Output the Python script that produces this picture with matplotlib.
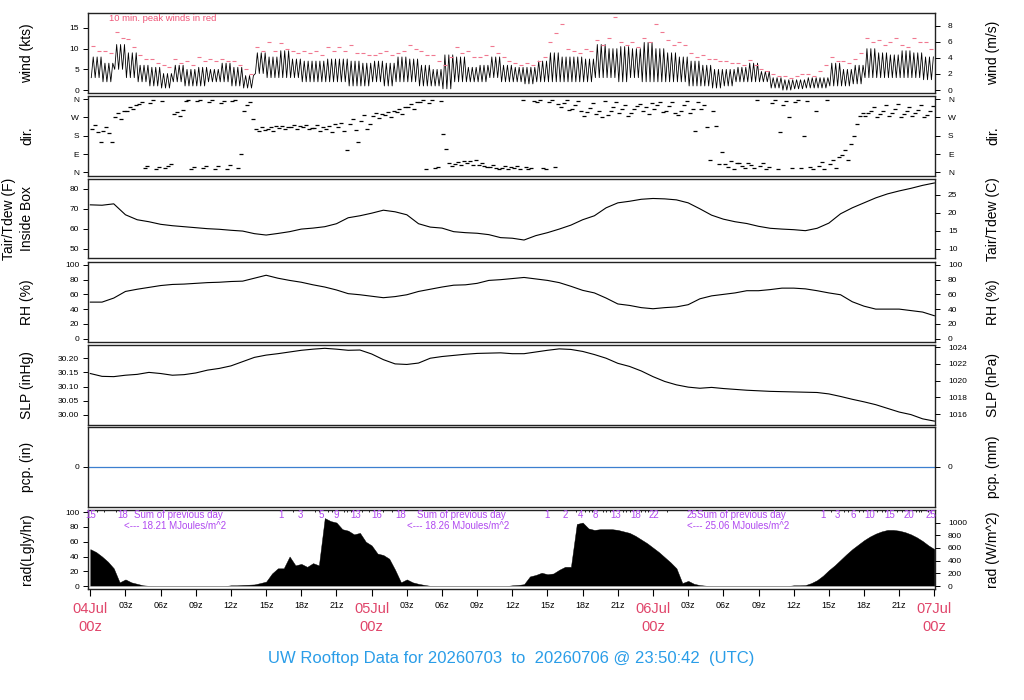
import numpy as np
import matplotlib
matplotlib.use('Agg')
import matplotlib.pyplot as plt
from matplotlib.transforms import blended_transform_factory

plt.rcParams['font.family'] = ['Liberation Sans', 'DejaVu Sans']

# ---------------- data (hours since 04Jul 00z) ----------------
hours = np.arange(73)

temp_f = [72.0, 71.8, 72.5, 67.0, 64.5, 63.5, 62.2, 61.5, 61.0, 60.5,
          60.0, 59.7, 59.2, 58.8, 57.5, 56.8, 57.6, 58.5, 59.8, 60.3,
          61.0, 62.5, 65.5, 66.5, 67.8, 69.3, 68.5, 67.0, 62.5, 60.8,
          60.3, 58.5, 58.0, 57.7, 57.0, 55.5, 55.2, 54.3, 56.5, 58.0,
          59.8, 61.8, 64.5, 66.5, 70.5, 73.0, 73.8, 74.8, 75.2, 75.0,
          74.5, 73.0, 70.0, 66.8, 64.8, 63.5, 62.6, 61.2, 60.2, 59.8,
          59.5, 59.0, 60.2, 62.8, 67.5, 70.5, 73.0, 75.5, 77.5, 79.0,
          80.3, 81.8, 83.0]

rh = [49.5, 49.5, 55, 64, 67, 69.5, 72, 73.5, 74, 75,
      76, 76.5, 77.5, 78, 82, 86, 82, 79, 76.5, 73,
      70, 66, 61, 59.5, 57.5, 55.5, 57, 59.5, 64, 67,
      70, 72.5, 73, 75, 79, 80, 81.5, 83, 81, 79,
      76, 71, 65.5, 62, 55, 47, 45, 42, 40.5, 42,
      43, 46, 54, 58, 60, 62, 65, 65, 66.5, 68.5,
      68.5, 67.5, 65, 62, 59.5, 50, 44, 40, 40, 40,
      38, 36, 31]

slp_inhg = [30.146, 30.136, 30.135, 30.140, 30.143, 30.150, 30.146, 30.140, 30.142, 30.148,
            30.158, 30.164, 30.173, 30.188, 30.203, 30.211, 30.216, 30.222, 30.228, 30.232,
            30.235, 30.232, 30.228, 30.229, 30.215, 30.195, 30.180, 30.178, 30.183, 30.200,
            30.206, 30.210, 30.214, 30.217, 30.218, 30.219, 30.216, 30.216, 30.222, 30.228,
            30.233, 30.231, 30.224, 30.213, 30.200, 30.182, 30.171, 30.155, 30.135, 30.118,
            30.106, 30.098, 30.094, 30.097, 30.093, 30.090, 30.087, 30.085, 30.083, 30.082,
            30.081, 30.080, 30.079, 30.074, 30.065, 30.055, 30.046, 30.036, 30.023, 30.010,
            30.001, 29.986, 29.978]

# hourly low / high of the 1-min wind trace (kts), hours 0..71
wind_lo = [3, 2, 5, 3, 2, 1, 0.5, 2, 1, 1, 2, 2, 1, 0.5, 4, 3, 3, 3, 2, 2,
           2, 2, 1, 1, 2, 1, 2, 2, 1, 1, 0.3, 2, 2, 2, 3, 2, 2, 1.5, 2, 2,
           2, 2, 2, 3, 3, 2, 3, 2, 2, 2, 2, 1, 1, 0.5, 1, 2, 2, 2, 0.5, 0,
           0.3, 0.5, 0.5, 1, 1, 1.5, 3, 3, 3, 3, 3, 2.5]
wind_hi = [8, 6.5, 11, 9, 6, 5.5, 4, 6, 5, 5.5, 5, 6.5, 5.5, 3.5, 9, 8, 9.5, 7.5, 7, 7,
           7.5, 7.5, 7, 6.5, 7, 6.5, 8, 7.5, 6, 5, 8.5, 8, 5.5, 6, 8, 6, 5.5, 5.5, 7, 9,
           8, 8, 7.5, 11, 10, 10.5, 10, 11.5, 10, 9, 8, 7, 6, 5, 5, 5.5, 6.5, 4.5, 3, 2.5,
           2.5, 3, 3, 6.5, 5, 6, 10, 9, 8.5, 9.5, 9, 8]

# 10-minute peak winds (kts), two per hour
peak_a = [10.7, 9.5, 14, 12.3, 8.5, 7.5, 6, 7.5, 7, 8, 7.5, 7.5, 7, 5, 10.5, 11.7, 11.3, 9.5, 9.5, 9.5,
          10.5, 10.5, 11, 9, 8.5, 9.5, 9, 11, 9.5, 8.5, 6, 10.3, 9.5, 8, 10.7, 8, 6.5, 6.5, 7, 11.5,
          16, 9.5, 10, 12, 12.5, 11.5, 11.5, 12.5, 16, 12, 11.5, 9, 8.5, 7.5, 7, 6.5, 7.2, 5, 4, 3.5,
          3.5, 4, 4.5, 8, 7, 7.5, 12.5, 12, 11.5, 11, 12.5, 11.5]
peak_b = [9.5, 9, 12.5, 10.5, 7.5, 6.5, 5.5, 6.5, 6, 7, 7, 7, 6, 4, 9.5, 9.5, 10, 9, 9, 8.5,
          9.5, 9.5, 9, 8.5, 9, 8.5, 9.5, 10, 8.5, 7, 8, 9, 8, 8.5, 9, 7, 6, 6, 8, 13.8,
          10, 9, 9.5, 11, 17.7, 11, 10.5, 11.5, 14, 11, 11, 8, 7.5, 7, 6.5, 6, 6, 4.5, 3.5, 3,
          4, 3.5, 6, 7, 6.5, 9, 11.5, 11, 12.5, 10.5, 11.5, 10]

# wind direction samples (deg), four per hour
dir1 = [215, 205, 270, 300, 335, 340, 350, 285, 350, 350, 345, 340, 350, 300, 215, 215, 220, 225, 225, 220,
        215, 225, 240, 250, 275, 280, 295, 320, 345, 355, 190, 40, 45, 35, 25, 20, 20, 25, 345, 345,
        320, 310, 275, 285, 280, 290, 290, 300, 310, 300, 280, 290, 310, 300, 40, 47, 47, 30, 340, 330,
        345, 350, 30, 40, 85, 180, 275, 270, 275, 270, 275, 270]
dir2 = [235, 225, 290, 320, 345, 355, 20, 295, 355, 355, 355, 350, 355, 330, 205, 225, 230, 235, 235, 235,
        230, 245, 260, 280, 290, 295, 310, 335, 355, 20, 115, 50, 55, 45, 35, 30, 30, 15, 355, 355,
        340, 330, 295, 300, 300, 310, 310, 320, 330, 325, 300, 310, 330, 230, 25, 45, 35, 45, 355, 350,
        355, 25, 50, 60, 110, 240, 290, 285, 290, 285, 290, 280]
dir3 = [200, 195, 260, 310, 20, 15, 30, 275, 15, 20, 15, 15, 20, 345, 225, 205, 215, 215, 215, 205,
        200, 205, 210, 215, 265, 270, 285, 310, 15, 25, 45, 35, 35, 30, 20, 15, 15, 20, 20, 25,
        355, 350, 315, 270, 320, 330, 325, 285, 345, 345, 330, 205, 225, 40, 55, 30, 20, 15, 15, 270,
        20, 15, 15, 20, 60, 275, 300, 300, 310, 300, 305, 300]
dir4 = [150, 150, 300, 330, 30, 25, 40, 305, 25, 30, 30, 35, 90, 260, 210, 230, 225, 230, 220, 225,
        240, 110, 150, 240, 285, 300, 320, 345, 340, 350, 30, 55, 60, 25, 15, 25, 355, 350, 15, 335,
        305, 300, 340, 350, 345, 275, 335, 340, 295, 290, 350, 345, 60, 100, 15, 20, 355, 25, 200, 20,
        180, 300, 355, 75, 140, 290, 320, 330, 335, 320, 330, 325]

# solar radiation (Langley/hr), every half hour from 0 to 72
rad_ly = [50, 46, 40, 33, 24, 5, 9, 5, 3, 1, 0.3,
          0, 0, 0, 0, 0, 0, 0, 0, 0, 0, 0, 0, 0,
          1, 1, 1.5, 1.8, 2.2, 4, 6, 17, 24, 24, 40, 28, 30, 26, 31, 28,
          92, 88, 86, 77, 75, 70, 72, 60, 55, 44, 42, 37, 22, 5, 9, 5, 3, 1.5, 0.3,
          0, 0, 0, 0, 0, 0, 0, 0, 0, 0, 0, 0, 0,
          1, 1.5, 2.5, 13, 15, 18, 16, 17, 22, 26, 26, 84, 86, 78, 76, 77, 77, 77,
          76, 74, 72, 68, 63, 58, 52, 46, 39, 32, 24, 4, 7, 3, 1.3, 0.5,
          0, 0, 0, 0, 0, 0, 0, 0, 0, 0, 0, 0, 0, 0,
          1, 1, 1.3, 4, 8, 14, 21.5, 28, 35.5, 43, 50, 56, 62, 67, 71, 74, 76, 76,
          75, 73, 70, 66, 61, 55, 50]

# cumulative daily radiation labels (MJ/m^2) along the top of the rad panel
cum_hours = [0.0, 2.8, 16.25, 17.9, 19.7, 21.0, 22.6, 24.4, 26.5,
             39.0, 40.5, 41.8, 43.1, 44.8, 46.5, 48.1, 51.3,
             62.5, 63.7, 65.1, 66.5, 68.2, 69.8, 71.7]
cum_labels = ['15', '18', '1', '3', '5', '9', '13', '16', '18',
              '1', '2', '4', '8', '13', '18', '22', '25',
              '1', '3', '6', '10', '15', '20', '25']
cum_tick_hours = [0.6, 1.2, 2.2, 17.25, 19.2, 19.5, 20.3, 20.6, 21.6, 21.9, 22.2, 23.2, 23.8, 25.0, 25.7,
                  41.4, 42.2, 42.5, 42.8, 43.7, 44.0, 44.3, 45.4, 45.7, 46.0, 47.0, 47.3, 47.6, 49.2,
                  63.2, 64.3, 64.6, 65.6, 65.9, 67.1, 67.5, 67.8, 68.8, 69.2, 70.4, 70.7, 70.9, 71.5]
sum_hours = [2.9, 27.0, 50.9]
sum_totals = ['18.21', '18.26', '25.06']

date_labels = ['04Jul', '05Jul', '06Jul', '07Jul']
title_text = 'UW Rooftop Data for 20260703  to  20260706 @ 23:50:42  (UTC)'

# ---------------- figure ----------------
W, H = 1024, 700
fig = plt.figure(figsize=(W / 100, H / 100), dpi=100)
X0, X1 = 88.3, 934.7
XLIM = (-0.17, 72.03)


def make_ax(top, bottom):
    ax = fig.add_axes([X0 / W, 1 - bottom / H, (X1 - X0) / W, (bottom - top) / H])
    ax.set_xlim(*XLIM)
    for s in ax.spines.values():
        s.set_linewidth(1.0)
        s.set_color('#222222')
    ax.tick_params(axis='y', labelsize=6, length=3.5, width=0.7, pad=3, direction='out')
    return ax


def right_axis(ax, lim, ticks, labels=None):
    a2 = ax.twinx()
    a2.set_ylim(*lim)
    a2.set_yticks(ticks)
    if labels is not None:
        a2.set_yticklabels(labels)
    a2.tick_params(axis='y', labelsize=6, length=3.5, width=0.7, pad=6, direction='out')
    for s in a2.spines.values():
        s.set_visible(False)
    return a2


KT2MS = 1 / 1.94384
tops = [13, 96, 179, 262, 345, 427, 510]
bots = [93, 175.5, 258.5, 341.5, 424.5, 506.5, 589]
axs = [make_ax(t, b) for t, b in zip(tops, bots)]

# ---- wind speed ----
ax = axs[0]
# trace swings between the hourly low and high three times per hour
sub = [1 / 12, 3 / 12, 5 / 12, 7 / 12, 9 / 12, 11 / 12]
t_w = np.ravel([[h + s for s in sub] for h in range(72)])
v_w = np.ravel([[lo, hi, lo, hi, lo, hi] for lo, hi in zip(wind_lo, wind_hi)])
ax.plot(t_w, v_w, color='black', lw=0.6)
t_p = np.ravel([[h + 0.25, h + 0.75] for h in range(72)])
v_p = np.ravel(list(zip(peak_a, peak_b)))
ax.plot(t_p, v_p, ls='none', marker='_', ms=2.6, mew=0.8, color='#F07890')
ax.set_ylim(-0.7, 18.6)
ax.set_yticks([0, 5, 10, 15])
ax.text(1.6, 17.3, '10 min. peak winds in red', fontsize=6.8, color='#EE5577', ha='left', va='center')
right_axis(ax, (-0.7 * KT2MS, 18.6 * KT2MS), [0, 2, 4, 6, 8])

# ---- direction ----
ax = axs[1]
offs = [0.125, 0.375, 0.625, 0.875]
for k, d in enumerate([dir1, dir2, dir3, dir4]):
    ax.plot(np.arange(72) + offs[k], d, ls='none', marker='_', ms=3.2, mew=0.9, color='black')
ax.set_ylim(-15, 375)
ax.set_yticks([0, 90, 180, 270, 360])
ax.set_yticklabels(['N', 'E', 'S', 'W', 'N'])
right_axis(ax, (-15, 375), [0, 90, 180, 270, 360], ['N', 'E', 'S', 'W', 'N'])

# ---- temperature ----
ax = axs[2]
ax.plot(hours, temp_f, color='black', lw=0.8)
ax.set_ylim(45, 85)
ax.set_yticks([50, 60, 70, 80])
right_axis(ax, ((45 - 32) / 1.8, (85 - 32) / 1.8), [10, 15, 20, 25])

# ---- RH ----
ax = axs[3]
ax.plot(hours, rh, color='black', lw=0.8)
ax.set_ylim(-4, 104)
ax.set_yticks([0, 20, 40, 60, 80, 100])
right_axis(ax, (-4, 104), [0, 20, 40, 60, 80, 100])

# ---- SLP ----
ax = axs[4]
ax.plot(hours, slp_inhg, color='black', lw=0.8)
ax.set_ylim(29.966, 30.2467)
ax.set_yticks([30.00, 30.05, 30.10, 30.15, 30.20])
ax.set_yticklabels(['30.00', '30.05', '30.10', '30.15', '30.20'])
right_axis(ax, (29.966 * 33.8639, 30.2467 * 33.8639), [1016, 1018, 1020, 1022, 1024])

# ---- precipitation ----
ax = axs[5]
ax.plot([XLIM[0], XLIM[1]], [0, 0], color='#3C7FCF', lw=0.9)
ax.set_ylim(-1, 1)
ax.set_yticks([0])
ax.set_yticklabels(['0'])
right_axis(ax, (-1, 1), [0], ['0'])

# ---- radiation ----
ax = axs[6]
t_r = np.arange(len(rad_ly)) * 0.5
ax.fill_between(t_r, 0, rad_ly, color='black', lw=0.3)
ax.plot([XLIM[0], XLIM[1]], [0, 0], color='#cccccc', lw=0.5)
ax.set_ylim(-4, 103)
ax.set_yticks([0, 20, 40, 60, 80, 100])
right_axis(ax, (-4 * 11.63, 103 * 11.63), [0, 200, 400, 600, 800, 1000])
mag = '#B048F0'
for h, lab in zip(cum_hours, cum_labels):
    ax.text(h, 95.8, lab, color=mag, fontsize=7, ha='center', va='center')
ax.vlines(cum_tick_hours, 100.0, 103, color='black', lw=0.6)
for h, tot in zip(sum_hours, sum_totals):
    ax.text(h + 0.85, 95.8, 'Sum of previous day', color=mag, fontsize=7, ha='left', va='center')
    ax.text(h, 81.0, '<--- ' + tot + ' MJoules/m^2', color=mag, fontsize=7, ha='left', va='center')

for a in axs[:-1]:
    a.set_xticks([])
xt = list(range(0, 73, 3))
axs[-1].set_xticks(xt)
axs[-1].set_xticklabels(['' if h % 24 == 0 else '%02dz' % (h % 24) for h in xt])
axs[-1].tick_params(axis='x', labelsize=6.5, length=5, width=0.8, pad=4)
tr = blended_transform_factory(axs[-1].transData, fig.transFigure)
for i, lab in enumerate(date_labels):
    axs[-1].text(24 * i, 1 - 609 / H, lab, transform=tr, color='#E0456A', fontsize=10.5,
                 ha='center', va='center', clip_on=False)
    axs[-1].text(24 * i, 1 - 627 / H, '00z', transform=tr, color='#E0456A', fontsize=10.5,
                 ha='center', va='center', clip_on=False)

# ---- axis titles ----
left_labels = ['wind (kts)', 'dir.', None, 'RH (%)', 'SLP (inHg)', 'pcp. (in)', 'rad(Lgly/hr)']
right_labels = ['wind (m/s)', 'dir.', 'Tair/Tdew (C)', 'RH (%)', 'SLP (hPa)', 'pcp. (mm)', 'rad (W/m^2)']
for i, (t, b) in enumerate(zip(tops, bots)):
    yc = 1 - (t + b) / 2 / H
    if left_labels[i] is not None:
        fig.text(27 / W, yc, left_labels[i], rotation=90, fontsize=10, ha='center', va='center')
    fig.text(993 / W, yc, right_labels[i], rotation=90, fontsize=10, ha='center', va='center')
yc = 1 - (tops[2] + bots[2]) / 2 / H
fig.text(9 / W, yc, 'Tair/Tdew (F)', rotation=90, fontsize=10, ha='center', va='center')
fig.text(27 / W, yc, 'Inside Box', rotation=90, fontsize=10, ha='center', va='center')

fig.text(511 / W, 1 - 659 / H, title_text, color='#2A9DE8', fontsize=12, ha='center', va='center')

fig.savefig('out.png', dpi=100)
